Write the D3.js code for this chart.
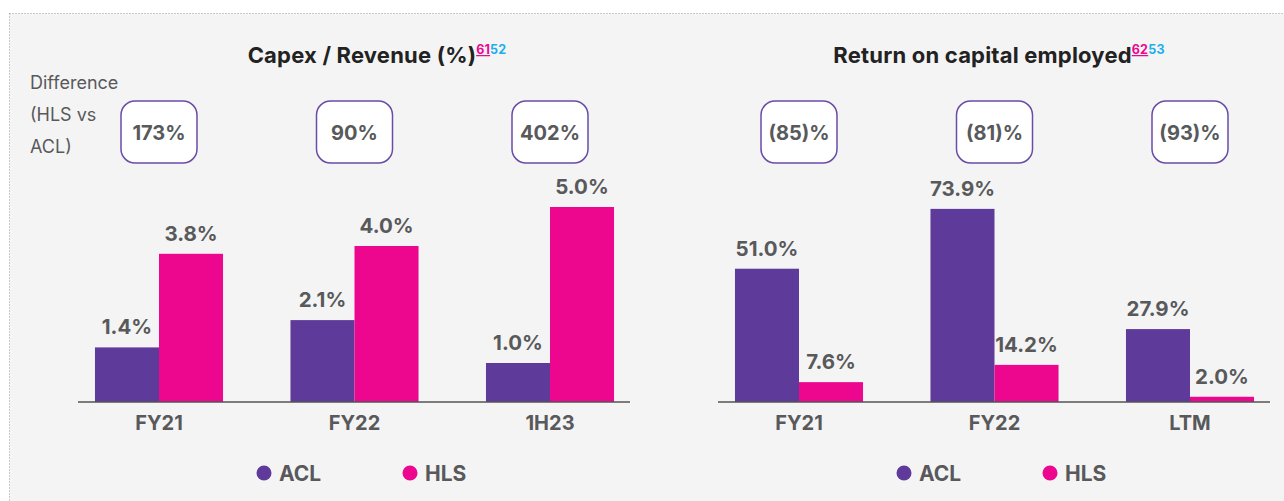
<!DOCTYPE html>
<html>
<head>
<meta charset="utf-8">
<script src="https://cdn.jsdelivr.net/npm/d3@7"></script>
<style>
  body { margin: 0; background: #fff; }
  svg { display: block; font-family: Inter, "Noto Sans", sans-serif; }
</style>
</head>
<body>
<svg id="chart" width="1284" height="501"></svg>
<script>
// data
const seriesNames = ["ACL", "HLS"];

const capexCats = ["FY21", "FY22", "1H23"];
const capexACL = [1.4, 2.1, 1.0];
const capexHLS = [3.8, 4.0, 5.0];
const capexDiff = ["173%", "90%", "402%"];

const roceCats = ["FY21", "FY22", "LTM"];
const roceACL = [51.0, 73.9, 27.9];
const roceHLS = [7.6, 14.2, 2.0];
const roceDiff = ["(85)%", "(81)%", "(93)%"];

const colors = { ACL: "#5e3b9a", HLS: "#ec078e" };
const textGrey = "#58595b";

const svg = d3.select("#chart");

// panel background with dotted border
svg.append("rect")
    .attr("x", 9.5).attr("y", 13.5)
    .attr("width", 1300).attr("height", 520)
    .attr("fill", "#f4f4f4")
    .attr("stroke", "#9a9a9a")
    .attr("stroke-dasharray", "1,2");

const baseY = 402;

function drawPanel(g, props) {
    const { cats, acl, hls, diffs, yMax, yTop, title, refs, titleX, showDiffLabel } = props;

    const rows = cats.map((c, i) => ({ cat: c, ACL: acl[i], HLS: hls[i], diff: diffs[i] }));

    const x0 = d3.scaleBand()
        .domain(cats)
        .range([61.25, 647.75])
        .paddingInner(0.345)
        .paddingOuter(0.1725);

    const x1 = d3.scaleBand()
        .domain(seriesNames)
        .range([0, x0.bandwidth()]);

    const y = d3.scaleLinear()
        .domain([0, yMax])
        .range([baseY, yTop]);

    // title
    const t = g.append("text")
        .attr("x", titleX).attr("y", 63)
        .attr("text-anchor", "middle")
        .attr("font-size", 22).attr("font-weight", 700)
        .attr("letter-spacing", 0.2)
        .attr("fill", "#222");
    t.append("tspan").text(title);
    t.append("tspan")
        .attr("font-size", 12.5).attr("dy", -9)
        .attr("fill", "#ec078e")
        .attr("text-decoration", "underline")
        .text(refs[0]);
    t.append("tspan")
        .attr("font-size", 12.5)
        .attr("fill", "#1ab0ec")
        .text(refs[1]);

    if (showDiffLabel) {
        g.append("text")
            .attr("x", 30).attr("y", 89)
            .attr("font-size", 18).attr("fill", textGrey)
            .selectAll("tspan")
            .data(["Difference", "(HLS vs", "ACL)"])
            .join("tspan")
            .attr("x", 30)
            .attr("dy", (d, i) => i === 0 ? 0 : 32)
            .text(d => d);
    }

    // difference boxes
    const boxes = g.selectAll("g.diff-box")
        .data(rows)
        .join("g")
        .attr("class", "diff-box")
        .attr("transform", d => `translate(${x0(d.cat) + x0.bandwidth() / 2},0)`);
    boxes.append("rect")
        .attr("x", -38).attr("y", 101)
        .attr("width", 76).attr("height", 62)
        .attr("rx", 14)
        .attr("fill", "#fff")
        .attr("stroke", "#6a4ba6")
        .attr("stroke-width", 1.5);
    boxes.append("text")
        .attr("y", 140)
        .attr("text-anchor", "middle")
        .attr("font-size", 20).attr("font-weight", 700)
        .attr("fill", textGrey)
        .text(d => d.diff);

    // bars
    const groups = g.selectAll("g.bar-g")
        .data(rows)
        .join("g")
        .attr("class", "bar-g")
        .attr("transform", d => `translate(${x0(d.cat)},0)`);

    const cells = groups.selectAll("g.cell")
        .data(d => seriesNames.map(k => ({ key: k, value: d[k] })))
        .join("g")
        .attr("class", "cell");

    cells.append("rect")
        .attr("x", d => x1(d.key))
        .attr("y", d => y(d.value))
        .attr("width", x1.bandwidth())
        .attr("height", d => baseY - y(d.value))
        .attr("fill", d => colors[d.key]);

    cells.append("text")
        .attr("x", d => x1(d.key) + x1.bandwidth() / 2)
        .attr("y", d => y(d.value) - 13)
        .attr("text-anchor", "middle")
        .attr("font-size", 20.5).attr("font-weight", 700)
        .attr("fill", textGrey)
        .text(d => d.value.toFixed(1) + "%");

    // category axis
    const axis = g.append("g")
        .attr("transform", `translate(0,${baseY})`)
        .call(d3.axisBottom(x0).tickSize(0).tickPadding(14));
    axis.select(".domain").remove();
    axis.selectAll("text")
        .attr("font-family", "Inter, 'Noto Sans', sans-serif")
        .attr("font-size", 20).attr("font-weight", 700)
        .attr("fill", textGrey);

    g.append("line")
        .attr("x1", 78).attr("x2", 630)
        .attr("y1", baseY).attr("y2", baseY)
        .attr("stroke", "#555").attr("stroke-width", 1.5);

    // legend
    const legend = g.selectAll("g.legend")
        .data(seriesNames)
        .join("g")
        .attr("class", "legend")
        .attr("transform", (d, i) => `translate(${264 + i * 146},473)`);
    legend.append("circle")
        .attr("r", 7.5)
        .attr("fill", d => colors[d]);
    legend.append("text")
        .attr("x", 15).attr("y", 8)
        .attr("font-size", 21).attr("font-weight", 700)
        .attr("fill", textGrey)
        .text(d => d);
}

drawPanel(svg.append("g"), {
    cats: capexCats, acl: capexACL, hls: capexHLS, diffs: capexDiff,
    yMax: 5, yTop: 207,
    title: "Capex / Revenue (%)", refs: ["61", "52"], titleX: 377,
    showDiffLabel: true
});

drawPanel(svg.append("g").attr("transform", "translate(640,0)"), {
    cats: roceCats, acl: roceACL, hls: roceHLS, diffs: roceDiff,
    yMax: 75, yTop: 206,
    title: "Return on capital employed", refs: ["62", "53"], titleX: 359,
    showDiffLabel: false
});
</script>
</body>
</html>
